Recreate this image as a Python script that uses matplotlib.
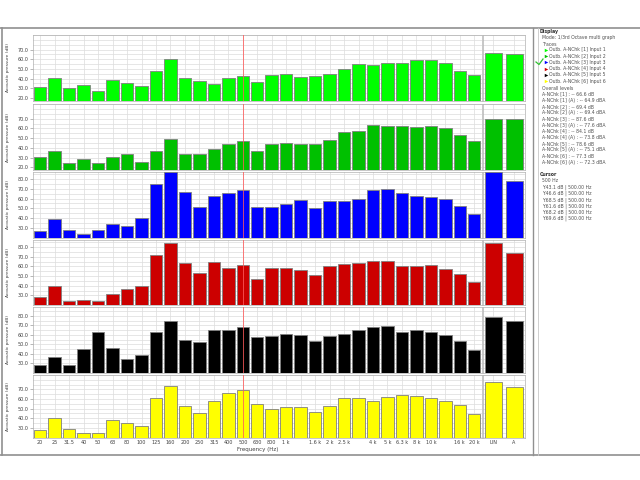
import numpy as np
import matplotlib
matplotlib.use('Agg')
import matplotlib.pyplot as plt
from matplotlib.lines import Line2D

# 1/3 octave bands, 20 Hz .. 20 kHz
bands = ['20', '25', '31.5', '40', '50', '63', '80', '100', '125', '160',
         '200', '250', '315', '400', '500', '630', '800', '1 k', '1.25 k', '1.6 k',
         '2 k', '2.5 k', '3.15 k', '4 k', '5 k', '6.3 k', '8 k', '10 k', '12.5 k', '16 k', '20 k']
band_labels = ['20', '25', '31.5', '40', '50', '63', '80', '100', '125', '160',
               '200', '250', '315', '400', '500', '630', '800', '1 k', '', '1.6 k',
               '2 k', '2.5 k', '', '4 k', '5 k', '6.3 k', '8 k', '10 k', '', '16 k', '20 k']
overall_labels = ['LIN', 'A']
cursor_band = 14  # 500 Hz

input1 = [31.0, 40.3, 29.8, 33.8, 27.6, 38.9, 35.5, 31.9, 48.0, 60.0, 40.3, 37.5, 34.7, 40.3, 43.1, 36.9,
          44.0, 44.6, 41.7, 42.5, 45.1, 49.7, 55.0, 53.9, 55.6, 56.4, 59.5, 59.5, 56.4, 47.6, 44.2]
input2 = [30.5, 37.3, 24.1, 29.0, 24.1, 30.5, 34.0, 26.1, 37.3, 48.7, 34.0, 34.0, 38.4, 43.7, 46.6, 37.3,
          43.7, 45.2, 44.5, 44.5, 48.0, 56.0, 57.4, 63.3, 62.1, 62.0, 61.2, 62.7, 60.4, 53.0, 47.2]
input3 = [26.3, 39.0, 28.0, 24.0, 28.0, 34.0, 31.7, 40.4, 75.0, 87.0, 66.5, 51.8, 62.5, 65.9, 68.5, 51.8,
          51.4, 54.8, 58.2, 50.8, 57.5, 57.5, 59.9, 69.2, 70.2, 65.9, 62.5, 61.8, 59.2, 52.5, 44.1]
input4 = [28.3, 39.3, 24.5, 25.6, 23.8, 31.8, 36.6, 40.0, 72.0, 84.8, 64.1, 53.1, 64.5, 58.9, 61.6, 46.9,
          58.9, 58.3, 56.5, 50.7, 60.7, 62.4, 63.4, 65.8, 65.8, 60.0, 60.0, 61.7, 57.3, 52.4, 43.8]
input5 = [28.6, 36.6, 28.3, 45.6, 63.0, 46.0, 34.2, 38.7, 62.6, 74.8, 54.3, 52.2, 65.4, 65.4, 68.2, 57.8,
          59.2, 60.9, 59.5, 53.3, 58.5, 61.3, 65.4, 68.2, 69.9, 62.6, 64.7, 62.6, 60.2, 53.3, 44.6]
input6 = [28.0, 40.6, 29.0, 24.0, 25.0, 38.0, 34.6, 32.3, 60.6, 74.0, 52.3, 45.6, 58.0, 66.6, 69.6, 54.6,
          50.0, 51.6, 51.3, 46.3, 53.0, 60.6, 60.6, 58.3, 61.6, 64.0, 63.3, 60.6, 58.3, 53.3, 44.6]

overall1 = [66.6, 64.9]
overall2 = [69.4, 69.4]
overall3 = [87.6, 77.6]
overall4 = [84.1, 73.8]
overall5 = [78.6, 75.1]
overall6 = [77.3, 72.3]

series = [input1, input2, input3, input4, input5, input6]
overalls = [overall1, overall2, overall3, overall4, overall5, overall6]
colors = ['#00ff00', '#00c000', '#0000ff', '#cc0000', '#000000', '#ffff00']
names = ['Input 1', 'Input 2', 'Input 3', 'Input 4', 'Input 5', 'Input 6']

# pixel layout of the rows (top, bottom) and the axis limits / ticks of each row
rows = [(35, 101), (104, 170), (172, 237.5), (240, 305), (307, 373), (375, 437.5)]
ylims = [(16.9, 72.8), (17.4, 75.3), (21.4, 87.3), (20.4, 87.5), (20.6, 89.4), (19.8, 82.3)]
yticks = [range(20, 71, 10), range(20, 71, 10), range(30, 81, 10),
          range(30, 81, 10), range(30, 81, 10), range(30, 71, 10)]

W, H = 640, 480


def px(l, t, r, b):
    return [l / W, 1 - b / H, (r - l) / W, (b - t) / H]


fig = plt.figure(figsize=(6.4, 4.8), dpi=100)
fig.patch.set_facecolor('white')

grid_col = '#dcdcdc'
edge_col = '#808080'
x = np.arange(len(bands))

for r in range(6):
    top, bot = rows[r]
    ax = fig.add_axes(px(33, top, 481.5, bot))
    ax2 = fig.add_axes(px(483, top, 524.5, bot))

    ax.bar(x, series[r], width=0.86, color=colors[r], edgecolor=edge_col, linewidth=0.6, zorder=3)
    ax2.bar([0, 1], overalls[r], width=0.82, color=colors[r], edgecolor=edge_col, linewidth=0.6, zorder=3)

    for a in (ax, ax2):
        a.set_ylim(*ylims[r])
        a.set_yticks(list(yticks[r]))
        a.set_yticks(np.arange(20, 90, 5), minor=True)
        a.grid(True, which='both', axis='y', color=grid_col, linewidth=0.5, zorder=0)
        a.grid(True, axis='x', color=grid_col, linewidth=0.5, zorder=0)
        for s in a.spines.values():
            s.set_color('#b0b0b0')
            s.set_linewidth(0.5)
        a.tick_params(which='both', length=0)

    ax.set_xlim(-0.5, len(bands) - 0.5)
    ax.set_xticks(x)
    ax2.set_xlim(-0.5, 1.5)
    ax2.set_xticks([0, 1])
    ax2.set_yticklabels([])
    ax.set_yticklabels(['%.1f' % v for v in yticks[r]], fontsize=3.5, color='#404040')
    ax.tick_params(axis='y', which='major', length=2, width=0.4, color='#808080', pad=1)
    ax.set_ylabel('Acoustic pressure (dB)', fontsize=3.2, color='#404040', labelpad=6)

    # cursor at 500 Hz
    ax.axvline(cursor_band, color='#ff5a5a', linewidth=0.7, alpha=0.8, zorder=4)

    if r == 5:
        ax.set_xticklabels(band_labels, fontsize=3.5, color='#404040')
        ax2.set_xticklabels(overall_labels, fontsize=3.5, color='#404040')
        ax.tick_params(axis='x', pad=2)
        ax2.tick_params(axis='x', pad=2)
    else:
        ax.set_xticklabels([])
        ax2.set_xticklabels([])

fig.text(258 / W, 1 - 450 / H, 'Frequency (Hz)', fontsize=4, color='#404040', ha='center', va='center')

# frames
fig.add_artist(Line2D([0, 1], [1 - 28 / H, 1 - 28 / H], color='#909090', linewidth=1.2))
fig.add_artist(Line2D([0, 1], [1 - 455 / H, 1 - 455 / H], color='#909090', linewidth=1.2))
fig.add_artist(Line2D([2 / W, 2 / W], [1 - 455 / H, 1 - 28 / H], color='#909090', linewidth=1.2))
fig.add_artist(Line2D([533 / W, 533 / W], [1 - 455 / H, 1 - 28 / H], color='#909090', linewidth=1.0))
fig.add_artist(Line2D([538 / W, 538 / W], [1 - 455 / H, 1 - 28 / H], color='#c8c8c8', linewidth=0.6))

# side panel
fs = 3.3


def line(ypix, txt, xpix=540, bold=False, color='#505050'):
    fig.text(xpix / W, 1 - ypix / H, txt, fontsize=fs, color=color,
             fontweight='bold' if bold else 'normal', va='center', ha='left')


line(32, 'Display', bold=True, color='#303030')
line(38, 'Mode: 1/3rd Octave multi graph', xpix=542)
line(44, 'Traces', xpix=542)
for i in range(6):
    yy = 50 + i * 6.2
    fig.add_artist(Line2D([546 / W], [1 - yy / H], marker='>', color=colors[i],
                          markersize=2.5, markeredgewidth=0))
    line(yy, 'Outb. A-NChk [%d] %s' % (i + 1, names[i]), xpix=549)
fig.add_artist(Line2D([536 / W, 539 / W, 543 / W], [1 - 62 / H, 1 - 64.5 / H, 1 - 59 / H],
                      color='#30c030', linewidth=0.9))

line(88, 'Overall levels', xpix=542)
yy = 94
for i in range(6):
    line(yy, 'A-NChk [%d] : -- %.1f dB' % (i + 1, overalls[i][0]), xpix=542)
    yy += 6.2
    line(yy, 'A-NChk [%d] (A) : -- %.1f dBA' % (i + 1, overalls[i][1]), xpix=542)
    yy += 6.2

line(175, 'Cursor', bold=True, color='#303030')
line(181, '500 Hz', xpix=542)
for i in range(6):
    line(187.5 + i * 6.2, 'Y:%.1f dB | 500.00 Hz' % series[i][cursor_band], xpix=542)

fig.savefig('out.png', dpi=100)
